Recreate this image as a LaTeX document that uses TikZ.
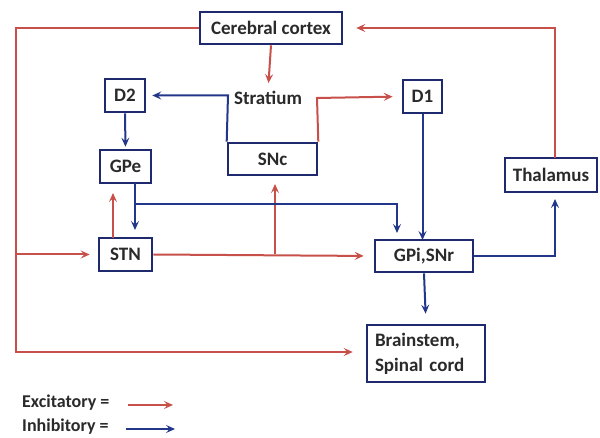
\documentclass[tikz,border=0pt]{standalone}
\usepackage{fontspec}
\setmainfont{Carlito}
\usetikzlibrary{arrows.meta}
\definecolor{exc}{HTML}{C8504A}
\definecolor{inh}{HTML}{23378A}
\definecolor{boxc}{HTML}{1F2A6E}
\definecolor{txt}{HTML}{2A2A2A}
\begin{document}
\begin{tikzpicture}[x=1pt,y=-1pt,
  box/.style={draw=boxc,line width=2.6pt,text=txt,font=\fontsize{19}{21}\selectfont\bfseries,inner sep=0pt,anchor=center},
  lbl/.style={text=txt,font=\fontsize{19}{21}\selectfont\bfseries,inner sep=0pt},
  ex/.style={draw=exc,line width=2pt,-{Stealth[length=9pt,width=8pt,inset=3.5pt]}},
  ih/.style={draw=inh,line width=2pt,-{Stealth[length=9pt,width=8pt,inset=3.5pt]}}]
\useasboundingbox (0,0) rectangle (600,438);
\fill[white] (0,0) rectangle (600,438);
\node[box,minimum width=142pt,minimum height=32pt] (cortex) at (271,28) {Cerebral cortex};
\node[box,minimum width=40pt,minimum height=33pt] (d2) at (125,95.5) {D2};
\node[lbl] (str) at (268,98) {Stratium};
\node[box,minimum width=89pt,minimum height=32pt] (snc) at (272.5,159) {SNc};
\node[box,minimum width=39pt,minimum height=33pt] (d1) at (422.5,96.5) {D1};
\node[box,minimum width=51pt,minimum height=33pt] (gpe) at (125.5,166.5) {GPe};
\node[box,minimum width=53pt,minimum height=33pt] (stn) at (125.5,254.5) {STN};
\node[box,minimum width=98pt,minimum height=32pt] (gpi) at (424,256) {GPi,SNr};
\node[box,minimum width=92pt,minimum height=34pt] (thal) at (551,175) {Thalamus};
\node[box,minimum width=118pt,minimum height=57pt,align=left,text width=102pt,font=\fontsize{19}{25}\selectfont\bfseries] (brain) at (426,353.5) {Brainstem,\\Spinal cord};
% legend
\node[lbl,anchor=west,font=\fontsize{18}{20}\selectfont\bfseries] (lex) at (22,403) {Excitatory =};
\node[lbl,anchor=west,font=\fontsize{18}{20}\selectfont\bfseries] (lin) at (22,427) {Inhibitory =};
\coordinate (lexa) at (128,405); \coordinate (lexb) at (173,405);
\coordinate (lina) at (126,429); \coordinate (linb) at (175,429);
\draw[ex] (lexa) -- (lexb);
\draw[ih] (lina) -- (linb);
% excitatory
\coordinate (lt) at (16,28); \coordinate (lb) at (16,352); \coordinate (lm) at (16,254.5);
\draw[ex,shorten >=13pt] (cortex.west) -- (lt) -- (lb) -- (brain.west |- lb);
\draw[ex,shorten >=8pt] (lm) -- (stn.west);
\draw[ex,shorten >=8pt] (cortex.south) -- (str.north);
\coordinate (sncne) at (317,98);
\draw[ex,shorten >=9pt] (snc.north east) -- (sncne) -- (d1.west);
\coordinate (stnt) at (113,238); \coordinate (gpeb) at (113,183);
\draw[ex,shorten >=10pt] (stnt) -- (gpeb);
\draw[ex,shorten >=10pt] (stn.east) -- (gpi.west);
\coordinate (brs) at (275,254.5); \coordinate (sncb) at (275,175);
\draw[ex,shorten >=9pt] (brs) -- (sncb);
\coordinate (tht) at (555,158); \coordinate (thc) at (555,28);
\draw[ex,shorten >=13pt] (tht) -- (thc) -- (cortex.east);
% inhibitory
\coordinate (sncnw) at (228,95.5);
\draw[ih,shorten >=6pt] (snc.north west) -- (sncnw) -- (d2.east);
\draw[ih,shorten >=2pt] (d2.south) -- (gpe.north);
\coordinate (gpeb2) at (135,183); \coordinate (stnt2) at (135,238);
\draw[ih,shorten >=8pt] (gpeb2) -- (stnt2);
\coordinate (gj) at (135,204); \coordinate (gr) at (397,204); \coordinate (gpit) at (397,240);
\draw[ih,shorten >=7pt] (gj) -- (gr) -- (gpit);
\coordinate (gpit2) at (422.5,240);
\draw[ih] (d1.south) -- (gpit2);
\coordinate (gc) at (555,256); \coordinate (thb) at (555,192);
\draw[ih,shorten >=7pt] (gpi.east) -- (gc) -- (thb);
\draw[ih,shorten >=10pt] (gpi.south) -- (brain.north);
\end{tikzpicture}
\end{document}
